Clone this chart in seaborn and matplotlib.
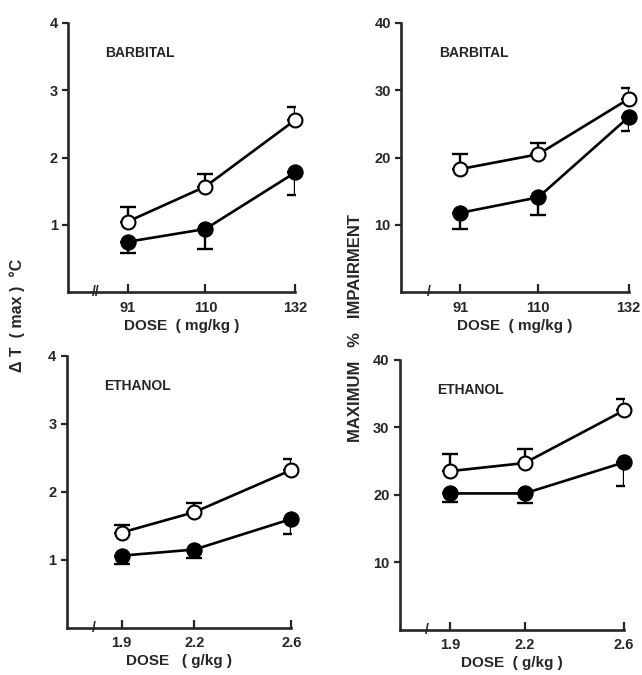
import matplotlib
matplotlib.use("Agg")
import matplotlib.pyplot as plt
import seaborn as sns
import pandas as pd

# ---- data ----
barb_dose = [91, 110, 132]
eth_dose = [1.9, 2.2, 2.6]

barb_dt_open = [1.05, 1.57, 2.56]
barb_dt_open_err = [0.21, 0.18, 0.19]
barb_dt_fill = [0.75, 0.94, 1.78]
barb_dt_fill_err = [0.16, 0.29, 0.33]

barb_imp_open = [18.3, 20.5, 28.7]
barb_imp_open_err = [2.3, 1.7, 1.7]
barb_imp_fill = [11.8, 14.1, 26.0]
barb_imp_fill_err = [2.4, 2.6, 2.0]

eth_dt_open = [1.40, 1.70, 2.32]
eth_dt_open_err = [0.11, 0.13, 0.16]
eth_dt_fill = [1.06, 1.15, 1.60]
eth_dt_fill_err = [0.12, 0.13, 0.22]

eth_imp_open = [23.5, 24.7, 32.5]
eth_imp_open_err = [2.5, 2.1, 1.7]
eth_imp_fill = [20.2, 20.2, 24.8]
eth_imp_fill_err = [1.2, 1.4, 3.5]

sns.set_style("ticks")
plt.rcParams['font.family'] = ['Liberation Sans', 'DejaVu Sans']
plt.rcParams['font.weight'] = 'bold'

fig = plt.figure(figsize=(6.42, 6.75), dpi=100)

panels = [
    # rect, dose, open, open_err, fill, fill_err, ymax, yticks, xlim, title, xlabel, break
    ([0.106, 0.567, 0.354, 0.399], barb_dose, barb_dt_open, barb_dt_open_err,
     barb_dt_fill, barb_dt_fill_err, 4, [1, 2, 3, 4], (76.4, 132), "BARBITAL",
     "DOSE  ( mg/kg )", "//"),
    ([0.625, 0.567, 0.354, 0.399], barb_dose, barb_imp_open, barb_imp_open_err,
     barb_imp_fill, barb_imp_fill_err, 40, [10, 20, 30, 40], (76.6, 132), "BARBITAL",
     "DOSE  ( mg/kg )", "/"),
    ([0.104, 0.070, 0.350, 0.403], eth_dose, eth_dt_open, eth_dt_open_err,
     eth_dt_fill, eth_dt_fill_err, 4, [1, 2, 3, 4], (1.674, 2.6), "ETHANOL",
     "DOSE   ( g/kg )", "/"),
    ([0.623, 0.067, 0.349, 0.400], eth_dose, eth_imp_open, eth_imp_open_err,
     eth_imp_fill, eth_imp_fill_err, 40, [10, 20, 30, 40], (1.699, 2.6), "ETHANOL",
     "DOSE  ( g/kg )", "/"),
]

for (rect, dose, op, op_e, fl, fl_e, ymax, yt, xl, title, xlabel, brk) in panels:
    ax = fig.add_axes(rect)
    df = pd.DataFrame({"dose": dose * 2, "val": op + fl,
                       "grp": ["open"] * 3 + ["fill"] * 3})
    # one-sided error bars: open up, filled down
    ax.errorbar(dose, op, yerr=[[0] * 3, op_e], fmt="none", ecolor="black",
                elinewidth=1.7, capsize=6, capthick=1.7, zorder=1)
    ax.errorbar(dose, fl, yerr=[fl_e, [0] * 3], fmt="none", ecolor="black",
                elinewidth=1.7, capsize=6, capthick=1.7, zorder=1)
    sns.lineplot(data=df[df.grp == "open"], x="dose", y="val", ax=ax,
                 color="black", lw=1.9, marker="o", markersize=10,
                 markerfacecolor="white", markeredgecolor="black",
                 markeredgewidth=1.5, zorder=3, clip_on=False)
    sns.lineplot(data=df[df.grp == "fill"], x="dose", y="val", ax=ax,
                 color="black", lw=1.9, marker="o", markersize=11,
                 markerfacecolor="black", markeredgecolor="black", zorder=3,
                 clip_on=False)
    ax.set_xlim(*xl)
    ax.set_ylim(0, ymax)
    ax.set_xticks(dose)
    ax.set_xticklabels([str(d) for d in dose])
    ax.set_yticks(yt)
    ax.set_ylabel("")
    ax.set_xlabel(xlabel, fontsize=11, fontweight="bold", labelpad=3)
    sns.despine(ax=ax)
    for s in ["left", "bottom"]:
        ax.spines[s].set_linewidth(1.9)
    ax.tick_params(axis="x", direction="in", length=6, width=1.6, labelsize=10.5, pad=6)
    ax.tick_params(axis="y", direction="out", length=4, width=1.6, labelsize=10.5)
    for lab in ax.get_xticklabels() + ax.get_yticklabels():
        lab.set_fontweight("bold")
    ax.text(0.165, 0.875, title, transform=ax.transAxes, fontsize=10,
            fontweight="bold")
    ax.text(0.12, 0.0, brk, transform=ax.transAxes, fontsize=10,
            fontweight="bold", ha="center", va="center")

fig.text(0.027, 0.533, "\u0394 T  ( max )  \u00b0C", rotation=90, ha="center",
         va="center", fontsize=11.5, fontweight="bold")
fig.text(0.553, 0.514, "MAXIMUM   %   IMPAIRMENT", rotation=90, ha="center",
         va="center", fontsize=12, fontweight="bold")

fig.savefig("out.png", dpi=100)
